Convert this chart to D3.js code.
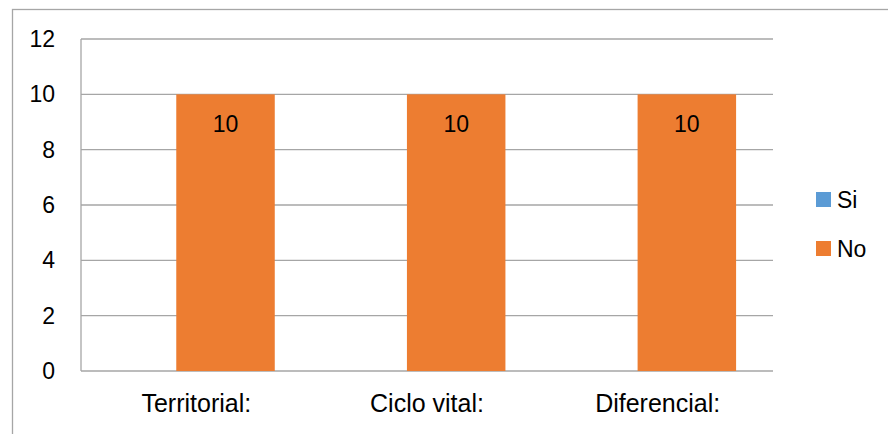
<!DOCTYPE html>
<html lang="es">
<head>
  <meta charset="UTF-8">
  <title>Si / No</title>
  <script src="https://d3js.org/d3.v7.min.js"></script>
  <style>
    body { margin: 0; background: #fff; }
    svg { display: block; font-family: 'Liberation Sans', Arial, sans-serif; }
    .grid line { stroke: #a6a6a6; stroke-width: 1.3; }
    .axis text { fill: #000; font-size: 23px; }
    .xaxis text { font-size: 25px; }
  </style>
</head>
<body>
<svg id="chart" width="888" height="434"></svg>
<script>
const categories = ["Territorial:", "Ciclo vital:", "Diferencial:"];
const series = ["Si", "No"];
const siValues = [0, 0, 0];
const noValues = [10, 10, 10];
const yTicks = [0, 2, 4, 6, 8, 10, 12];
const colors = {Si: "#5b9bd5", No: "#ed7d31"};

const svg = d3.select("#chart");
const plot = {left: 81, right: 773, top: 39, bottom: 371};

// chart frame
svg.append("rect")
  .attr("x", 12.5).attr("y", 9.5)
  .attr("width", 900).attr("height", 500)
  .attr("fill", "none").attr("stroke", "#a6a6a6").attr("stroke-width", 1.3);

const x = d3.scaleBand().domain(categories).range([plot.left, plot.right]);
const y = d3.scaleLinear().domain([0, 12]).range([plot.bottom, plot.top]);

// series offsets inside each category band (clustered bars, with overlap)
const bw = x.bandwidth();
const barW = bw * 0.427;
const offset = d3.scalePoint().domain(series).range([bw * 0.159, bw * 0.413]);

const g = svg.append("g");

// horizontal gridlines
g.append("g").attr("class", "grid")
  .selectAll("line").data(yTicks).join("line")
  .attr("x1", plot.left).attr("x2", plot.right)
  .attr("y1", d => y(d)).attr("y2", d => y(d));

// left axis line
g.append("line")
  .attr("x1", plot.left).attr("x2", plot.left)
  .attr("y1", plot.top).attr("y2", plot.bottom)
  .attr("stroke", "#a6a6a6").attr("stroke-width", 1.3);

const data = [];
categories.forEach((c, i) => {
  data.push({cat: c, s: "Si", v: siValues[i]});
  data.push({cat: c, s: "No", v: noValues[i]});
});

g.selectAll("rect.bar").data(data.filter(d => d.v > 0)).join("rect")
  .attr("class", "bar")
  .attr("x", d => x(d.cat) + offset(d.s))
  .attr("width", barW)
  .attr("y", d => y(d.v))
  .attr("height", d => y(0) - y(d.v))
  .attr("fill", d => colors[d.s]);

// value labels inside bars
g.selectAll("text.val").data(data.filter(d => d.v > 0)).join("text")
  .attr("class", "val")
  .attr("x", d => x(d.cat) + offset(d.s) + barW / 2)
  .attr("y", d => y(d.v) + 30)
  .attr("dy", "0.35em")
  .attr("text-anchor", "middle")
  .attr("font-size", 23)
  .text(d => d.v);

// y axis labels
const yAxis = svg.append("g").attr("class", "axis")
  .attr("transform", `translate(${plot.left},0)`)
  .call(d3.axisLeft(y).tickValues(yTicks).tickSize(0).tickPadding(26));
yAxis.select(".domain").remove();

// x axis labels
const xAxis = svg.append("g").attr("class", "axis xaxis")
  .attr("transform", `translate(0,${plot.bottom})`)
  .call(d3.axisBottom(x).tickSize(0).tickPadding(23));
xAxis.select(".domain").remove();

// legend
const legend = svg.append("g").attr("transform", "translate(816,192)");
series.forEach((s, i) => {
  const row = legend.append("g").attr("transform", `translate(0,${i * 49})`);
  row.append("rect").attr("width", 15).attr("height", 15).attr("fill", colors[s]);
  row.append("text").attr("x", 21).attr("y", 7.5).attr("dy", "0.35em")
    .attr("font-size", 23).text(s);
});
</script>
</body>
</html>
